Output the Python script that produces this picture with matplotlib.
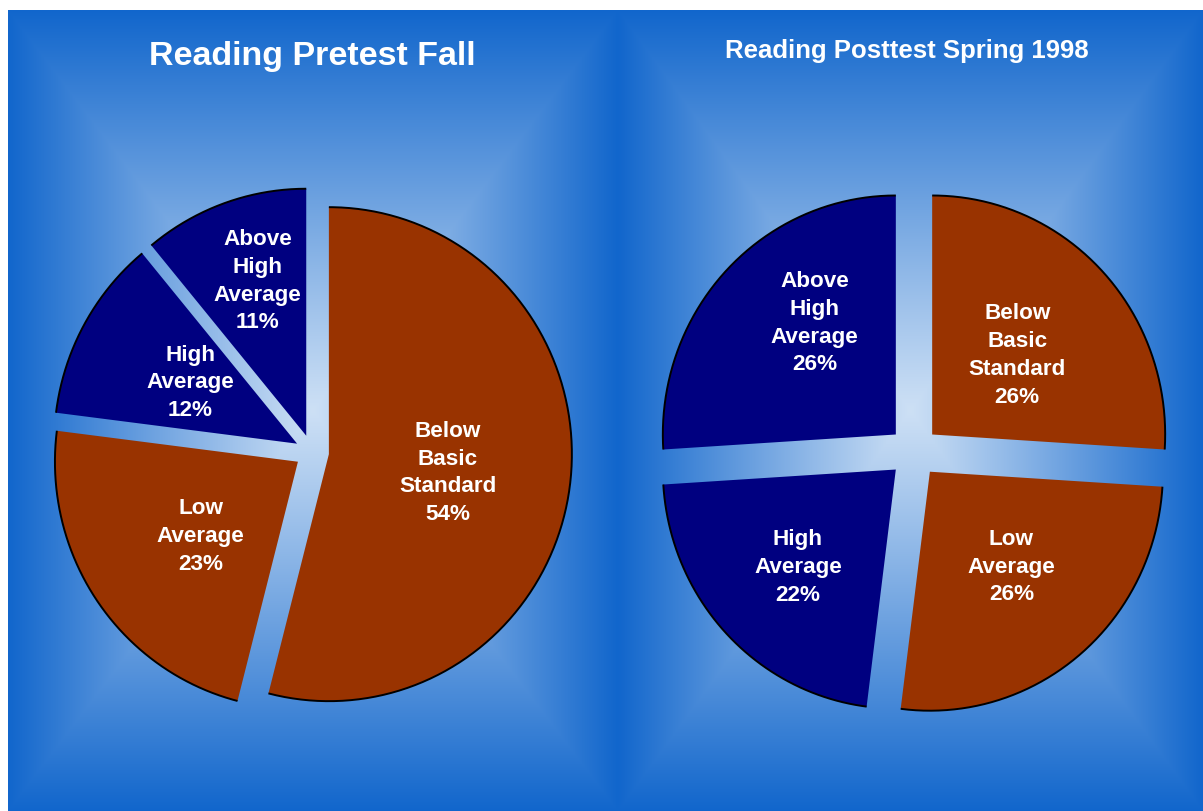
import numpy as np
import matplotlib
matplotlib.use("Agg")
import matplotlib.pyplot as plt

plt.rcParams['font.family'] = ['Liberation Sans', 'DejaVu Sans']

# ---- data ----
categories = ["Below\nBasic\nStandard", "Low\nAverage", "High\nAverage", "Above\nHigh\nAverage"]
pretest_values = [54, 23, 12, 11]
posttest_values = [26, 26, 22, 26]
titles = ["Reading Pretest Fall", "Reading Posttest Spring 1998"]

# ---- styling ----
slice_colors = ["#993300", "#993300", "#000080", "#000080"]
W, H = 1203, 812
EDGE = np.array([17, 102, 204]) / 255
CENTER = np.array([205, 224, 245]) / 255

fig = plt.figure(figsize=(W / 100, H / 100), dpi=100)
fig.patch.set_facecolor("white")

bg = fig.add_axes([0, 0, 1, 1])
bg.set_xlim(0, W)
bg.set_ylim(H, 0)
bg.axis("off")


def panel_gradient(x0, x1, y0, y1):
    """Rectangular gradient from a light centre out to blue edges."""
    xs = np.arange(x0, x1) + 0.5
    ys = np.arange(y0, y1) + 0.5
    X, Y = np.meshgrid(xs, ys)
    cx, cy = (x0 + x1) / 2, (y0 + y1) / 2
    t = np.maximum(np.abs(X - cx) / ((x1 - x0) / 2), np.abs(Y - cy) / ((y1 - y0) / 2))
    t = np.clip(t, 0, 1) ** 1.05
    img = CENTER[None, None, :] * (1 - t[..., None]) + EDGE[None, None, :] * t[..., None]
    bg.imshow(img, extent=(x0, x1, y1, y0), interpolation="bilinear", zorder=0)


panel_gradient(8, 618, 11, H)
panel_gradient(618, W, 11, H)
bg.set_xlim(0, W)
bg.set_ylim(H, 0)

bg.text(312, 56, titles[0], color="white", fontsize=24.5, fontweight="bold",
        ha="center", va="center")
bg.text(907, 51, titles[1], color="white", fontsize=18.5, fontweight="bold",
        ha="center", va="center")


def draw_pie(values, cx, cy, rx, ry, explode, label_offsets):
    ax = fig.add_axes([0, 0, 1, 1])
    ax.patch.set_alpha(0)
    wedges, _ = ax.pie(values, colors=slice_colors, startangle=90, counterclock=False,
                       explode=[explode] * len(values), radius=1.0,
                       wedgeprops=dict(linewidth=0))
    ax.set_aspect("auto")
    ax.set_xlim(-cx / rx, (W - cx) / rx)
    ax.set_ylim(-(H - cy) / ry, cy / ry)
    ax.axis("off")
    for w, lab, v, (ox, oy) in zip(wedges, categories, values, label_offsets):
        wx, wy = w.center
        th = np.radians(np.linspace(w.theta1, w.theta2, 200))
        ax.plot(wx + w.r * np.cos(th), wy + w.r * np.sin(th), color="black",
                lw=1.4, solid_capstyle="butt")
        ax.text(wx + ox, wy + oy, f"{lab}\n{v}%",
                color="white", fontsize=16.2, fontweight="bold",
                ha="center", va="center", linespacing=1.43)


# label offsets from each wedge's apex, in pie radii
draw_pie(pretest_values, 312, 453, 243, 247, 0.07,
         [(0.49, -0.072), (-0.40, -0.30), (-0.44, 0.25), (-0.20, 0.63)])
draw_pie(posttest_values, 914, 453, 233, 239, 0.107,
         [(0.365, 0.335), (0.35, -0.395), (-0.42, -0.405), (-0.348, 0.47)])

fig.savefig("out.png", dpi=100, facecolor=fig.get_facecolor())
